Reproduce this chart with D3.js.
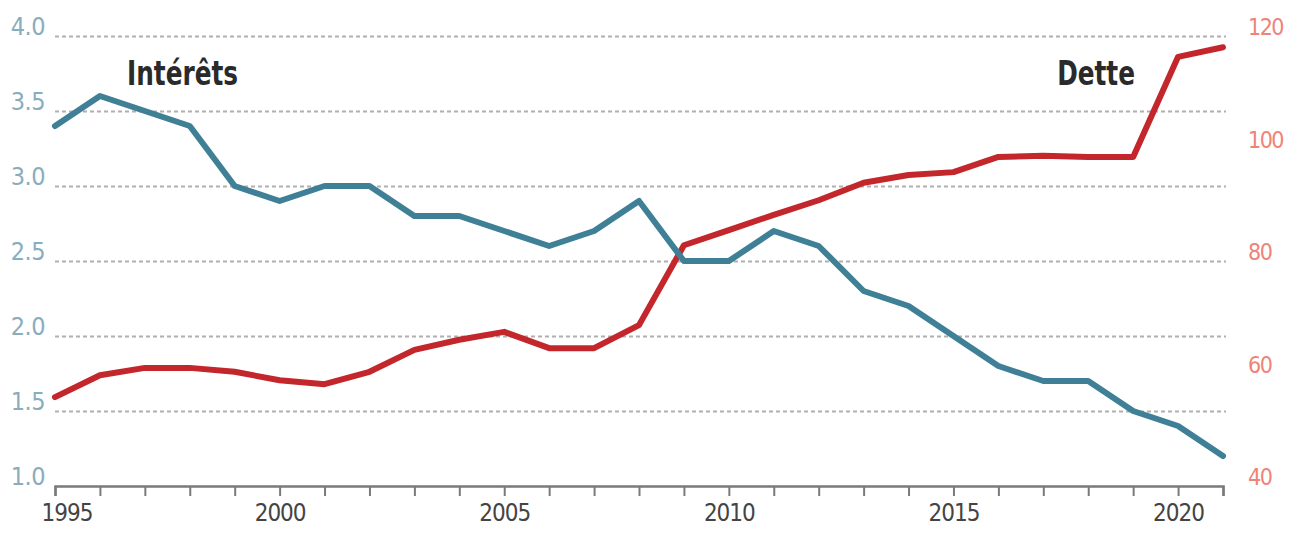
<!DOCTYPE html>
<html>
<head>
<meta charset="utf-8">
<script src="https://cdn.jsdelivr.net/npm/d3@7"></script>
<style>
  body { margin: 0; background: #fff; }
  svg text { font-family: "DejaVu Sans Condensed", "Liberation Sans Narrow", sans-serif; }
</style>
</head>
<body>
<div id="chart"></div>
<script>
// Intérêts (% du PIB, axe gauche) et Dette (% du PIB, axe droit), 1995-2021
const years = d3.range(1995, 2022);
const interets = [3.4, 3.6, 3.5, 3.4, 3.0, 2.9, 3.0, 3.0, 2.8, 2.8, 2.7, 2.6, 2.7, 2.9,
                  2.5, 2.5, 2.7, 2.6, 2.3, 2.2, 2.0, 1.8, 1.7, 1.7, 1.5, 1.4, 1.2];
const dette = [55.8, 59.7, 61.0, 61.0, 60.3, 58.8, 58.1, 60.3, 64.2, 66.0, 67.4, 64.5, 64.5, 68.6,
               82.8, 85.5, 88.2, 90.8, 93.9, 95.3, 95.8, 98.5, 98.7, 98.5, 98.5, 116.3, 118.0];
const leftTicks = [1.0, 1.5, 2.0, 2.5, 3.0, 3.5, 4.0];
const rightTicks = [40, 60, 80, 100, 120];
const yearLabels = [1995, 2000, 2005, 2010, 2015, 2020];

function createChart() {
    const W = 1300, H = 536;
    const margin = { top: 36, right: 77, bottom: 50, left: 55 };

    const svg = d3.select("#chart")
        .append("svg")
        .attr("width", W)
        .attr("height", H);

    // Échelles
    const x = d3.scaleLinear()
        .domain([1995, 2021])
        .range([margin.left, W - margin.right]);

    const yLeft = d3.scaleLinear()
        .domain([1, 4])
        .range([H - margin.bottom, margin.top]);

    const yRight = d3.scaleLinear()
        .domain([40, 120])
        .range([H - margin.bottom, margin.top]);

    // Grille pointillée
    svg.append("g")
        .attr("transform", `translate(${margin.left},0)`)
        .call(d3.axisLeft(yLeft)
            .tickValues(leftTicks.filter(d => d > 1))
            .tickSize(-(x.range()[1] - margin.left + 3))
            .tickFormat(""))
        .call(g => g.select(".domain").remove())
        .call(g => g.selectAll("line")
            .attr("stroke", "#b0b0b0")
            .attr("stroke-width", 2)
            .attr("stroke-dasharray", "4,3"));

    // Axe gauche (labels seulement)
    svg.append("g")
        .attr("transform", `translate(${margin.left - 10},0)`)
        .call(d3.axisLeft(yLeft).tickValues(leftTicks).tickSize(0).tickPadding(0)
            .tickFormat(d3.format(".1f")))
        .call(g => g.select(".domain").remove())
        .call(g => g.selectAll("text")
            .attr("dy", "-0.05em")
            .attr("fill", "#88adbe")
            .style("font-size", "25px")
            .style("letter-spacing", "-0.5px"));

    // Axe droit (labels seulement)
    svg.append("g")
        .attr("transform", `translate(${W - margin.right + 25},0)`)
        .call(d3.axisRight(yRight).tickValues(rightTicks).tickSize(0).tickPadding(0))
        .call(g => g.select(".domain").remove())
        .call(g => g.selectAll("text")
            .attr("dy", "-0.05em")
            .attr("fill", "#ef8378")
            .style("font-size", "23px")
            .style("letter-spacing", "-1.5px"));

    // Axe des années
    svg.append("g")
        .attr("transform", `translate(0,${H - margin.bottom})`)
        .call(d3.axisBottom(x)
            .tickValues(years)
            .tickSize(10)
            .tickPadding(8)
            .tickFormat(d => yearLabels.includes(d) ? d : ""))
        .call(g => g.select(".domain")
            .attr("stroke", "#7a7a7a")
            .attr("stroke-width", 2.5))
        .call(g => g.selectAll(".tick line")
            .attr("stroke", "#7a7a7a")
            .attr("stroke-width", 2))
        .call(g => g.selectAll("text")
            .attr("fill", "#444")
            .style("font-size", "24px")
            .style("letter-spacing", "-1px"))
        .call(g => g.selectAll(".tick text")
            .filter(d => d === 1995)
            .attr("text-anchor", "start")
            .attr("dx", "-14"));

    // Lignes
    const lineLeft = d3.line()
        .x((d, i) => x(years[i]))
        .y(d => yLeft(d));

    const lineRight = d3.line()
        .x((d, i) => x(years[i]))
        .y(d => yRight(d));

    svg.append("path")
        .datum(dette)
        .attr("fill", "none")
        .attr("stroke", "#c3262b")
        .attr("stroke-width", 6)
        .attr("stroke-linejoin", "round")
        .attr("stroke-linecap", "round")
        .attr("d", lineRight);

    svg.append("path")
        .datum(interets)
        .attr("fill", "none")
        .attr("stroke", "#3f8096")
        .attr("stroke-width", 6)
        .attr("stroke-linejoin", "round")
        .attr("stroke-linecap", "round")
        .attr("d", lineLeft);

    // Titres des séries (police condensée, étirée en hauteur)
    svg.append("text")
        .attr("transform", "translate(127,85) scale(0.81,1)")
        .attr("fill", "#2a2a2a")
        .style("font-size", "34px")
        .style("font-weight", "bold")
        .text("Intérêts");

    svg.append("text")
        .attr("transform", "translate(1135,85) scale(0.81,1)")
        .attr("text-anchor", "end")
        .attr("fill", "#2a2a2a")
        .style("font-size", "34px")
        .style("font-weight", "bold")
        .text("Dette");
}

createChart();
</script>
</body>
</html>
